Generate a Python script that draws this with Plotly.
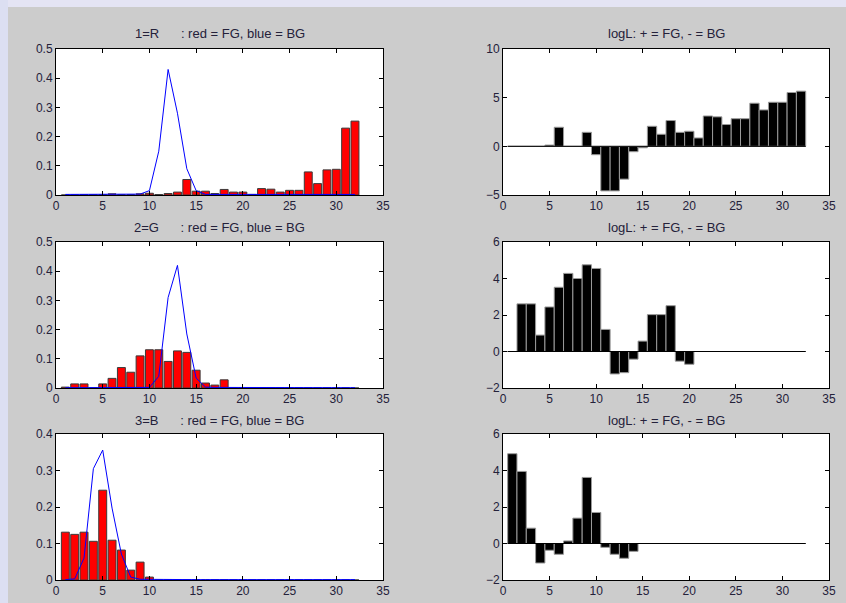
import plotly.graph_objects as go

# ---------------- data ----------------
bins = list(range(1, 33))

fg_r = [0, 0, 0.001, 0.001, 0.001, 0.004, 0.001, 0.001, 0.004, 0.006, 0.0015, 0.005,
        0.01, 0.053, 0.013, 0.013, 0.005, 0.019, 0.01, 0.01, 0.002, 0.022, 0.02, 0.01,
        0.016, 0.016, 0.079, 0.039, 0.086, 0.088, 0.229, 0.253]
bg_r = [0.002, 0.002, 0.002, 0.002, 0.002, 0.002, 0.002, 0.002, 0.003, 0.015, 0.15, 0.43,
        0.28, 0.09, 0.015, 0.002, 0.002, 0.002, 0.002, 0.002, 0.002, 0.002, 0.002, 0.002,
        0.002, 0.002, 0.002, 0.002, 0.002, 0.002, 0.002, 0.002]

fg_g = [0.003, 0.014, 0.014, 0, 0.014, 0.033, 0.070, 0.054, 0.110, 0.131, 0.131, 0.091,
        0.127, 0.122, 0.061, 0.017, 0.010, 0.028, 0, 0, 0, 0, 0, 0,
        0, 0, 0, 0, 0, 0, 0, 0]
bg_g = [0.001, 0.001, 0.001, 0.001, 0.001, 0.001, 0.001, 0.001, 0.001, 0.002, 0.04, 0.31,
        0.42, 0.185, 0.034, 0.003, 0.002, 0.002, 0.001, 0.001, 0.001, 0.001, 0.001, 0.001,
        0.001, 0.001, 0.001, 0.001, 0.001, 0.001, 0.001, 0.001]

fg_b = [0.131, 0.125, 0.131, 0.106, 0.246, 0.109, 0.082, 0.027, 0.049, 0.008, 0, 0,
        0, 0, 0, 0, 0, 0, 0, 0, 0, 0, 0, 0,
        0, 0, 0, 0, 0, 0, 0, 0]
bg_b = [0.001, 0.003, 0.06, 0.305, 0.356, 0.197, 0.071, 0.008, 0.002, 0.0015, 0.001, 0.001,
        0.001, 0.001, 0.001, 0.001, 0.001, 0.001, 0.001, 0.001, 0.001, 0.001, 0.001, 0.001,
        0.001, 0.001, 0.001, 0.001, 0.001, 0.001, 0.001, 0.001]

logl_r = [0, 0, 0, 0, 0.13, 1.96, 0, 0, 1.44, -0.86, -4.58, -4.58, -3.37, -0.55, -0.15, 2.06,
          1.24, 2.65, 1.44, 1.55, 0.86, 3.12, 3.03, 2.24, 2.84, 2.84, 4.43, 3.74, 4.53, 4.53,
          5.53, 5.67]
logl_g = [0, 2.61, 2.61, 0.90, 2.44, 3.52, 4.28, 4.0, 4.75, 4.55, 1.21, -1.23, -1.16, -0.42,
          0.57, 2.02, 2.02, 2.51, -0.53, -0.70, 0, 0, 0, 0, 0, 0, 0, 0, 0, 0, 0, 0]
logl_b = [4.92, 3.95, 0.84, -1.07, -0.37, -0.59, 0.14, 1.39, 3.62, 1.70, -0.21, -0.59, -0.81,
          -0.43, 0, 0, 0, 0, 0, 0, 0, 0, 0, 0, 0, 0, 0, 0, 0, 0, 0, 0]

left_titles = ["1=R", "2=G", "3=B"]
right_title = "logL: + = FG, - = BG"
left_yranges = [[0, 0.5], [0, 0.5], [0, 0.4]]
right_yranges = [[-5, 10], [-2, 6], [-2, 6]]
right_dticks = [5, 2, 2]
x_range = [0, 35]

fg_list = [fg_r, fg_g, fg_b]
bg_list = [bg_r, bg_g, bg_b]
logl_list = [logl_r, logl_g, logl_b]

# ---------------- layout geometry ----------------
W, H = 846, 603
left_x = (56, 383)
right_x = (503, 829)
rows_px = [(49, 195), (242, 388), (434, 580)]
title_px = [34, 227.5, 420]

TXT = "#24213a"
FONT = "Liberation Sans, Arial, sans-serif"
LAV = "#e4e4f4"

fig = go.Figure()
layout = dict(
    width=W, height=H, autosize=False,
    margin=dict(l=0, r=0, t=0, b=0, pad=0),
    paper_bgcolor="#cccccc", plot_bgcolor="white",
    showlegend=False, bargap=0,
    font=dict(family=FONT, size=12, color=TXT),
    shapes=[
        dict(type="rect", xref="paper", yref="paper", x0=0, x1=1.0, y0=1 - 7 / H, y1=1.0,
             fillcolor=LAV, line=dict(width=0), layer="below"),
        dict(type="rect", xref="paper", yref="paper", x0=0, x1=8 / W, y0=0, y1=1.0,
             fillcolor="#dcdff2", line=dict(width=0), layer="below"),
    ],
    annotations=[],
)


def axis(domain, rng, dtick, anchor):
    return dict(domain=domain, range=rng, dtick=dtick, tick0=0, ticks="inside", ticklen=4,
                tickcolor="black", tickwidth=1, showline=True, linecolor="black", linewidth=1,
                mirror="ticks", showgrid=False, zeroline=False, anchor=anchor, automargin=False,
                tickfont=dict(family=FONT, size=12, color=TXT), fixedrange=True)


nbr = 1
for i in range(3):
    top, bot = rows_px[i]
    ydom = [1 - bot / H, 1 - top / H]
    # left panel
    xa, ya = nbr, nbr
    xname = "xaxis" if xa == 1 else f"xaxis{xa}"
    yname = "yaxis" if ya == 1 else f"yaxis{ya}"
    layout[xname] = axis([left_x[0] / W, left_x[1] / W], x_range, 5, "y" if ya == 1 else f"y{ya}")
    layout[yname] = axis(ydom, left_yranges[i], 0.1, "x" if xa == 1 else f"x{xa}")
    xr = "x" if xa == 1 else f"x{xa}"
    yr = "y" if ya == 1 else f"y{ya}"
    fig.add_trace(go.Bar(x=bins, y=fg_list[i], width=0.85, xaxis=xr, yaxis=yr,
                         marker=dict(color="#ff0000", line=dict(color="#3a3a3a", width=1))))
    fig.add_trace(go.Scatter(x=bins, y=bg_list[i], mode="lines", xaxis=xr, yaxis=yr,
                             line=dict(color="#0000ff", width=1)))
    layout["annotations"].append(dict(
        xref="paper", yref="paper", x=(left_x[0] + left_x[1]) / 2 / W, y=1 - title_px[i] / H,
        xanchor="center", yanchor="middle", showarrow=False,
        text=left_titles[i] + "\u00a0" * 6 + ": red = FG, blue = BG",
        font=dict(family=FONT, size=13, color=TXT)))
    nbr += 1
    # right panel
    xa = ya = nbr
    xr, yr = f"x{xa}", f"y{ya}"
    layout[f"xaxis{xa}"] = axis([right_x[0] / W, right_x[1] / W], x_range, 5, yr)
    layout[f"yaxis{ya}"] = axis(ydom, right_yranges[i], right_dticks[i], xr)
    fig.add_trace(go.Scatter(x=[bins[0] - 0.5, bins[-1] + 0.5], y=[0, 0], mode="lines",
                             xaxis=xr, yaxis=yr, line=dict(color="black", width=1)))
    fig.add_trace(go.Bar(x=bins, y=logl_list[i], width=1.0, xaxis=xr, yaxis=yr,
                         marker=dict(color="black", line=dict(color="#9a9a9a", width=1))))
    layout["annotations"].append(dict(
        xref="paper", yref="paper", x=(right_x[0] + right_x[1]) / 2 / W, y=1 - title_px[i] / H,
        xanchor="center", yanchor="middle", showarrow=False, text=right_title,
        font=dict(family=FONT, size=13, color=TXT)))
    nbr += 1

fig.update_layout(**layout)
fig.write_html("out.html", config={"displayModeBar": False, "staticPlot": True},
               post_script="document.body.style.margin='0';document.body.style.overflow='hidden';")
